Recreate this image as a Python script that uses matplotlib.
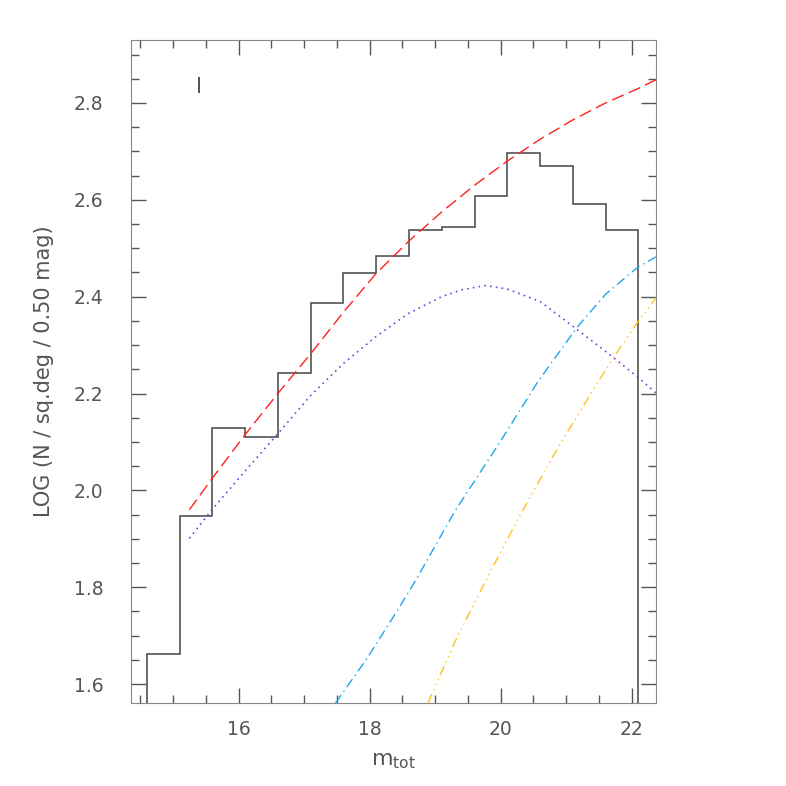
import numpy as np
import matplotlib
matplotlib.use('Agg')
import matplotlib.pyplot as plt
from matplotlib.ticker import MultipleLocator

# histogram (0.5 mag bins)
bin_edges = [14.6, 15.1, 15.6, 16.1, 16.6, 17.1, 17.6, 18.1, 18.6, 19.1,
             19.6, 20.1, 20.6, 21.1, 21.6, 22.1]
log_counts = [1.662, 1.948, 2.129, 2.111, 2.243, 2.387, 2.449, 2.483,
              2.538, 2.543, 2.608, 2.696, 2.670, 2.592, 2.538]

# total model (red dashed)
red_x = [15.25, 15.6, 16.1, 16.6, 17.1, 17.6, 18.1, 18.6, 19.1, 19.6,
         20.1, 20.6, 21.1, 21.6, 22.1, 22.37]
red_y = [1.960, 2.025, 2.115, 2.200, 2.282, 2.368, 2.448, 2.515, 2.575,
         2.630, 2.680, 2.725, 2.765, 2.800, 2.830, 2.848]

# component 1 (purple dotted)
pur_x = [15.25, 15.6, 16.1, 16.6, 17.1, 17.6, 18.1, 18.6, 19.1, 19.4,
         19.76, 20.1, 20.6, 21.1, 21.6, 22.1, 22.37]
pur_y = [1.901, 1.961, 2.040, 2.117, 2.196, 2.262, 2.318, 2.366, 2.400,
         2.414, 2.423, 2.416, 2.390, 2.339, 2.287, 2.233, 2.201]

# component 2 (cyan dash-dot)
cyan_x = [17.48, 17.95, 18.4, 18.71, 19.3, 19.98, 20.57, 21.16, 21.6,
          22.1, 22.38]
cyan_y = [1.561, 1.651, 1.747, 1.816, 1.957, 2.098, 2.225, 2.336, 2.405,
          2.462, 2.483]

# component 3 (orange dash-dot-dot-dot)
orng_x = [18.89, 19.3, 19.78, 20.3, 20.80, 21.05, 21.49, 21.71, 22.05,
          22.37]
orng_y = [1.561, 1.687, 1.816, 1.950, 2.071, 2.128, 2.225, 2.272, 2.340,
          2.398]

gray = '#555555'
plt.rcParams['font.family'] = 'DejaVu Sans'

fig = plt.figure(figsize=(7.86, 7.86), dpi=100)
ax = fig.add_axes([0.1667, 0.1056, 0.668, 0.8435])

ax.stairs(log_counts, bin_edges, baseline=1.4, color='#444444', lw=1.1)
ax.plot(red_x, red_y, color='#ff2020', lw=1.0, dashes=(9, 4))
ax.plot(pur_x, pur_y, color='#7a3ddb', lw=1.2, dashes=(1, 2.5))
ax.plot(cyan_x, cyan_y, color='#1fa5f0', lw=1.0, dashes=(7, 3, 1, 3))
ax.plot(orng_x, orng_y, color='#ffc21f', lw=1.0,
        dashes=(7, 3, 1, 3, 1, 3, 1, 3))

ax.set_xlim(14.36, 22.37)
ax.set_ylim(1.561, 2.93)

ax.xaxis.set_major_locator(MultipleLocator(2))
ax.xaxis.set_minor_locator(MultipleLocator(0.5))
ax.yaxis.set_major_locator(MultipleLocator(0.2))
ax.yaxis.set_minor_locator(MultipleLocator(0.05))
ax.tick_params(which='both', direction='in', top=True, right=True,
               color=gray, labelcolor=gray, labelsize=13.5, width=1)
ax.tick_params(which='major', length=11)
ax.tick_params(which='minor', length=6)
ax.tick_params(axis='x', which='major', pad=12)
ax.tick_params(axis='y', which='major', pad=20)
for s in ax.spines.values():
    s.set_color('#888888')

ax.set_xlabel(r'm$_{\rm tot}$', color=gray, fontsize=16, labelpad=9)
ax.set_ylabel('LOG (N / sq.deg / 0.50 mag)', color=gray, fontsize=15,
              labelpad=14)
ax.text(15.39, 2.832, 'I', color=gray, fontsize=15, ha='center', va='center')

fig.savefig('out.png', dpi=100)
